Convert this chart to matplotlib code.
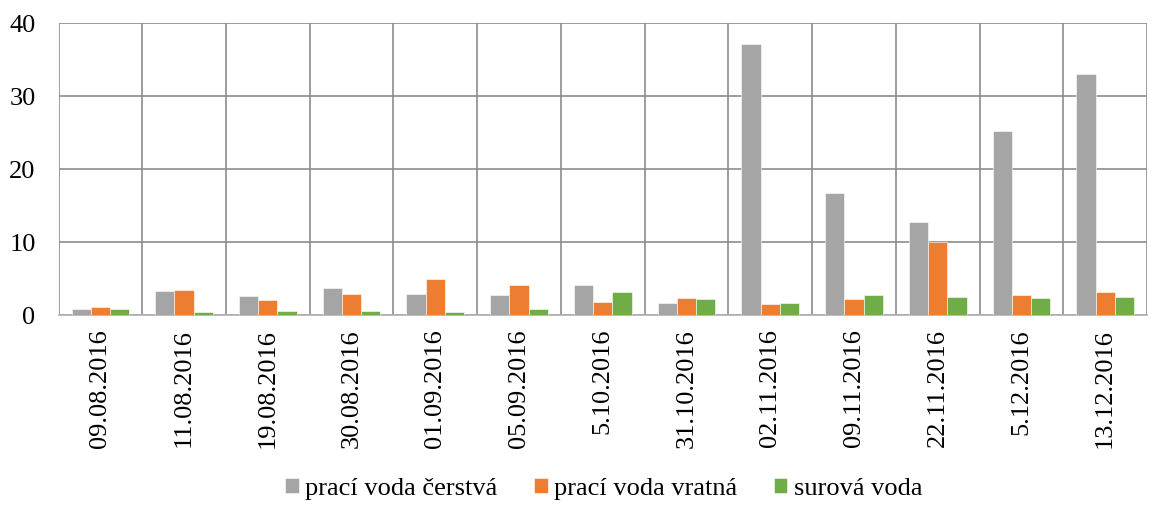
import numpy as np
import matplotlib
matplotlib.use('Agg')
import matplotlib.pyplot as plt

# Odběry vzorků
dates = ['09.08.2016', '11.08.2016', '19.08.2016', '30.08.2016', '01.09.2016',
         '05.09.2016', '5.10.2016', '31.10.2016', '02.11.2016', '09.11.2016',
         '22.11.2016', '5.12.2016', '13.12.2016']
praci_cerstva = [0.87, 3.26, 2.6, 3.76, 2.94, 2.8, 4.08, 1.6, 37.1, 16.7, 12.8, 25.2, 33.0]
praci_vratna = [1.15, 3.44, 2.1, 2.9, 5.0, 4.08, 1.74, 2.39, 1.5, 2.25, 10.0, 2.75, 3.2]
surova = [0.83, 0.41, 0.5, 0.5, 0.46, 0.78, 3.21, 2.25, 1.65, 2.75, 2.43, 2.3, 2.43]

series = [('prací voda čerstvá', praci_cerstva, '#A5A5A5'),
          ('prací voda vratná', praci_vratna, '#ED7D31'),
          ('surová voda', surova, '#70AD47')]

plt.rcParams['font.family'] = ['Liberation Serif', 'DejaVu Serif']

fig = plt.figure(figsize=(11.66, 5.05), dpi=100)
ax = fig.add_axes([0.0502, 0.3762, 0.9335, 0.5777])

x = np.arange(len(dates))
w = 0.23
for i, (name, vals, col) in enumerate(series):
    ax.bar(x + (i - 1) * w, vals, w, color=col, label=name,
           edgecolor='white', linewidth=0.4, zorder=3)

ax.set_xlim(-0.5, len(dates) - 0.5)
ax.set_ylim(0, 40)
ax.set_yticks([0, 10, 20, 30, 40])

# svislé čáry mezi kategoriemi
for b in np.arange(-0.5, len(dates), 1.0):
    ax.axvline(b, color='#8c8c8c', lw=1.2, zorder=1)
ax.yaxis.grid(True, color='#8c8c8c', lw=1.2, zorder=1)
ax.set_axisbelow(True)

for s in ['top', 'right', 'left']:
    ax.spines[s].set_visible(False)
ax.spines['bottom'].set_color('#b0b0b0')
ax.spines['bottom'].set_linewidth(1.2)

ax.set_xticks(x)
ax.set_xticklabels(dates, rotation=90, fontsize=19)
ax.tick_params(axis='x', length=0, pad=10)
ax.tick_params(axis='y', length=0, pad=16.5, labelsize=19)

leg = fig.legend(loc='center', bbox_to_anchor=(0.518, 0.032), ncol=3,
                 frameon=False, fontsize=19, handlelength=0.5, handleheight=0.5,
                 handletextpad=0.25, columnspacing=1.4)

fig.savefig('out.png', dpi=100)
